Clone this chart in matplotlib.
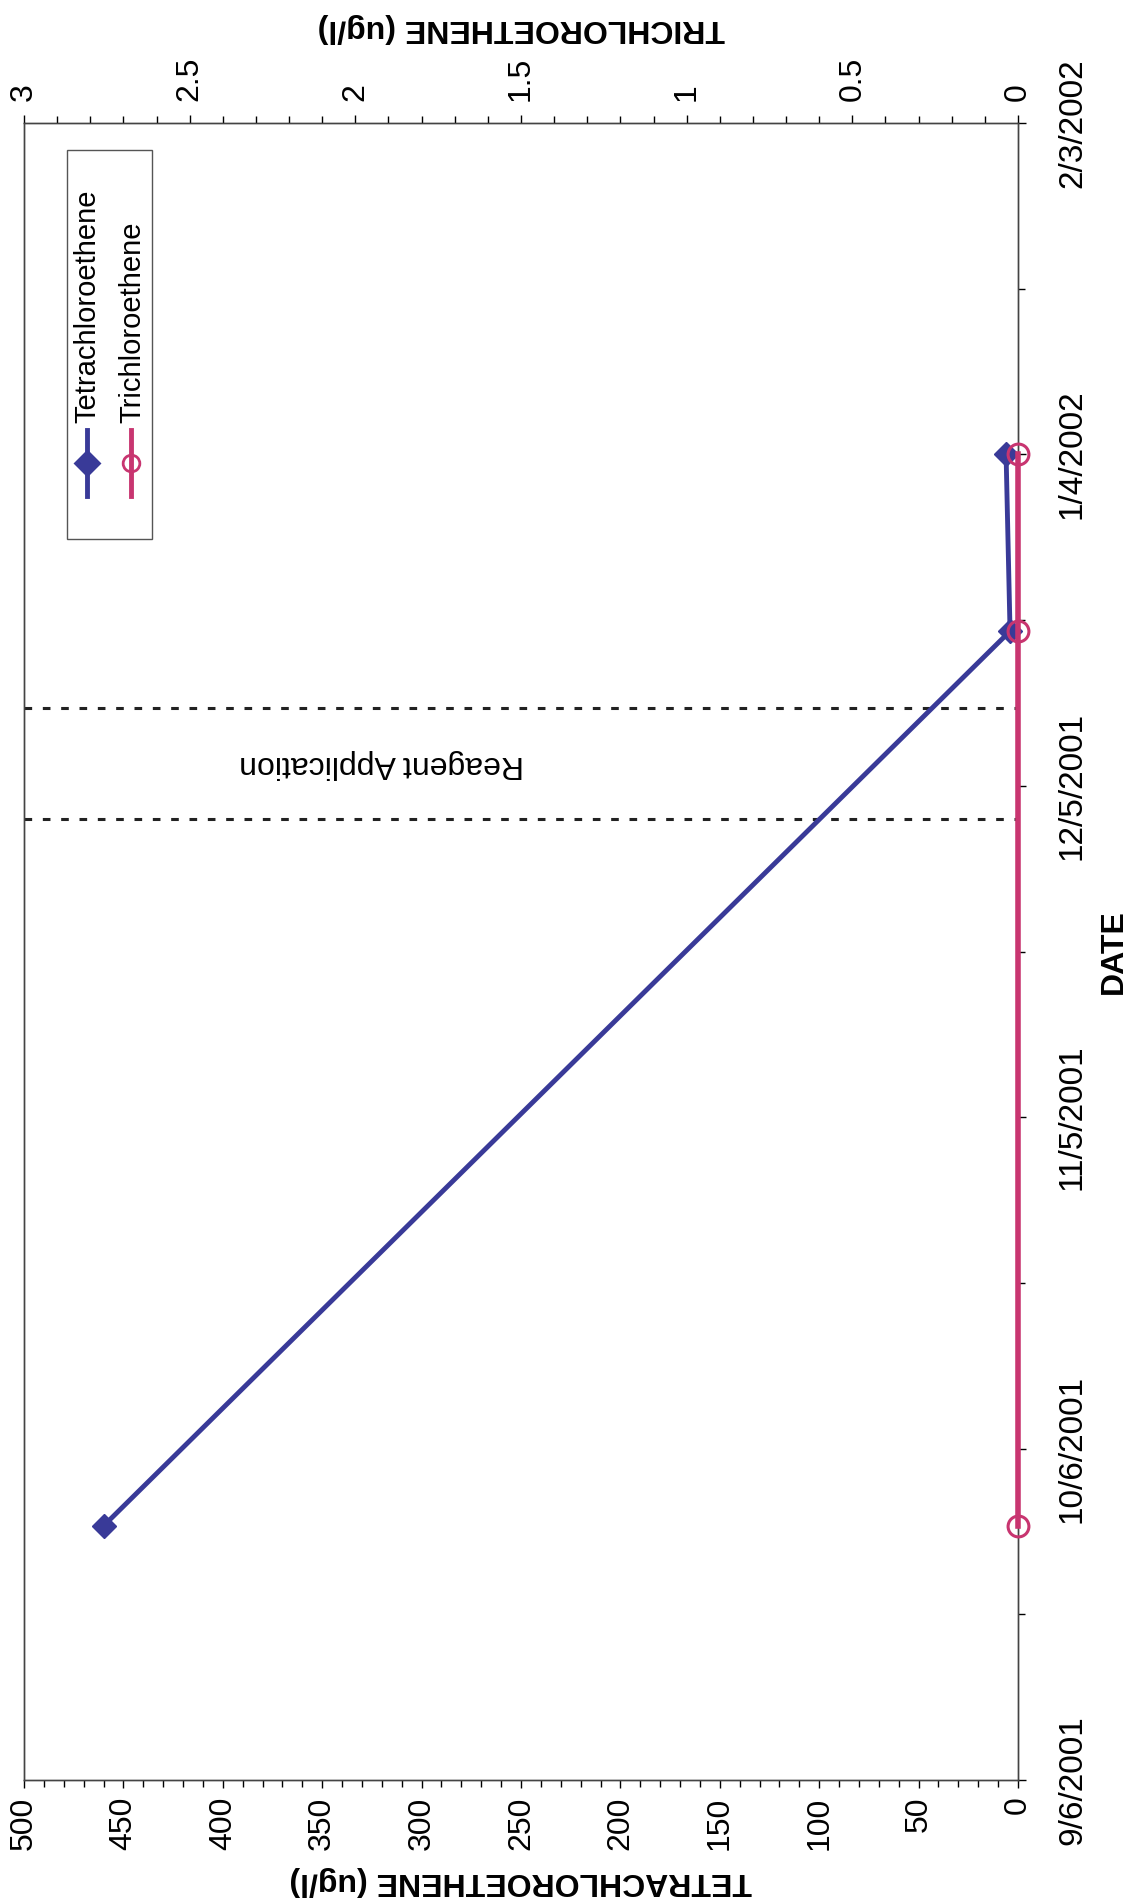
import matplotlib
matplotlib.use('Agg')
import matplotlib.pyplot as plt
import matplotlib.dates as mdates
from matplotlib.ticker import MultipleLocator, FixedLocator
from matplotlib.patches import Rectangle
from datetime import datetime
import numpy as np

plt.rcParams['font.family'] = ['Liberation Sans', 'DejaVu Sans']

# ---------------- data ----------------
sample_dates = ['2001-09-29', '2001-12-19', '2002-01-04']
tetrachloroethene = [460, 4, 6]
trichloroethene = [0, 0, 0]

reagent_dates = ['2001-12-02', '2001-12-12']
reagent_label_date = '2001-12-07'

date_ticks = ['2001-09-06', '2001-10-06', '2001-11-05', '2001-12-05', '2002-01-04', '2002-02-03']
date_tick_labels = ['9/6/2001', '10/6/2001', '11/5/2001', '12/5/2001', '1/4/2002', '2/3/2002']
tetra_ticks = [0, 50, 100, 150, 200, 250, 300, 350, 400, 450, 500]
tetra_tick_labels = ['0', '50', '100', '150', '200', '250', '300', '350', '400', '450', '500']
tri_ticks = [0, 0.5, 1, 1.5, 2, 2.5, 3]
tri_tick_labels = ['0', '0.5', '1', '1.5', '2', '2.5', '3']


def dn(s):
    return mdates.date2num(datetime.strptime(s, '%Y-%m-%d'))


d_samples = [dn(s) for s in sample_dates]
d_ticks = [dn(s) for s in date_ticks]

BLUE = '#393a98'
PINK = '#c83570'
W, H = 1131, 1902

fig = plt.figure(figsize=(W / 100, H / 100), dpi=100)
L, R, T, B = 24, 1018, 123, 1780
ax = fig.add_axes([L / W, 1 - B / H, (R - L) / W, (B - T) / H])

# Tetrachloroethene (bottom axis, inverted)
ax.plot(tetrachloroethene, d_samples, color=BLUE, lw=3.5, marker='D', ms=12,
        zorder=3, clip_on=False)
ax.set_xlim(500, 0)
ax.set_ylim(d_ticks[0], d_ticks[-1])

# Dates on right side
ax.yaxis.tick_right()
ax.yaxis.set_label_position('right')
ax.set_yticks(d_ticks)
ax.set_yticklabels(date_tick_labels, rotation=90, va='center', fontsize=24)
ax.yaxis.set_minor_locator(FixedLocator(np.arange(d_ticks[0], d_ticks[-1] + 1, 15)))
ax.tick_params(axis='y', which='major', length=6, width=1, pad=22, direction='out')
ax.tick_params(axis='y', which='minor', length=5, width=1, direction='out')

ax.set_xticks(tetra_ticks)
ax.set_xticklabels(tetra_tick_labels, rotation=90, fontsize=23)
ax.xaxis.set_minor_locator(MultipleLocator(10))
ax.tick_params(axis='x', which='major', length=6, width=1, pad=6, direction='out')
ax.tick_params(axis='x', which='minor', length=5, width=1, direction='out')

ax.set_xlabel('TETRACHLOROETHENE (ug/l)', rotation=180, fontsize=23, fontweight='bold')
ax.xaxis.set_label_coords(0.5, -0.061)
ax.xaxis.label.set_va('center')
ax.set_ylabel('DATE', rotation=90, fontsize=23, fontweight='bold')
ax.yaxis.set_label_coords(1.0966, 0.4997)
ax.yaxis.label.set_va('center')
ax.yaxis.label.set_ha('center')

for s in ax.spines.values():
    s.set_linewidth(1.0)
    s.set_color('#444444')

# Reagent application lines
for d in reagent_dates:
    ax.axhline(dn(d), color='#222222', lw=2.2, ls=(0, (2.5, 3.5)), zorder=2)
ax.text(320, dn(reagent_label_date), 'Reagent Application', rotation=180,
        ha='center', va='center', fontsize=23)

# Trichloroethene (top axis, inverted)
ax2 = ax.twiny()
ax2.plot(trichloroethene, d_samples, color=PINK, lw=4, marker='o', ms=15,
         mfc='none', mew=2.2, zorder=3, clip_on=False)
ax2.set_xlim(3, 0)
ax2.set_xticks(tri_ticks)
ax2.set_xticklabels(tri_tick_labels, rotation=90, fontsize=23)
ax2.xaxis.set_minor_locator(MultipleLocator(0.1))
ax2.tick_params(axis='x', which='major', length=6, width=1, pad=10, direction='out')
ax2.tick_params(axis='x', which='minor', length=5, width=1, direction='out')
ax2.set_xlabel('TRICHLOROETHENE (ug/l)', rotation=180, fontsize=23, fontweight='bold')
ax2.xaxis.set_label_coords(0.5, 1.0574)
ax2.xaxis.label.set_va('center')
for s in ax2.spines.values():
    s.set_linewidth(1.0)
    s.set_color('#444444')

# Manual legend (rotated)
tr = ax2.transAxes
ax2.add_patch(Rectangle((0.043, 0.749), 0.086, 0.235, transform=tr,
                        facecolor='white', edgecolor='#555555', lw=1.0, zorder=4))
entries = [('Tetrachloroethene', BLUE, 'D', BLUE, 0.063, 0.064),
           ('Trichloroethene', PINK, 'o', 'none', 0.108, 0.109)]
for name, col, mk, mfc, xx, xt in entries:
    ax2.plot([xx, xx], [0.775, 0.815], transform=tr, color=col, lw=3.5, zorder=5)
    ax2.plot([xx], [0.795], transform=tr, color=col, marker=mk, ms=12,
             mfc=mfc, mew=2, zorder=6)
    ax2.text(xt, 0.819, name, rotation=90, ha='center', va='bottom',
             transform=tr, fontsize=21, zorder=6)

fig.savefig('out.png', dpi=100, facecolor='white')
